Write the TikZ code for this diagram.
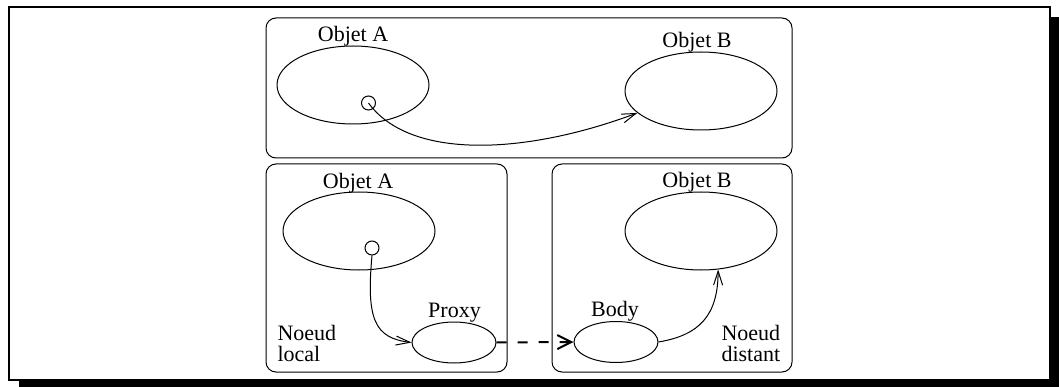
\documentclass[tikz,border=0pt]{standalone}
\usepackage{fontspec}
\setmainfont{Liberation Serif}
\newfontfamily\labelfont{Liberation Serif}
\usetikzlibrary{shapes.geometric,arrows.meta}
\begin{document}
\begin{tikzpicture}[x=1pt,y=-1pt,line width=1pt,
  obj/.style={draw,ellipse,minimum width=152pt,minimum height=78pt,inner sep=0pt},
  smallobj/.style={draw,ellipse,minimum width=84pt,minimum height=41pt,inner sep=0pt},
  refc/.style={draw,circle,minimum size=14pt,inner sep=0pt},
  lbl/.style={font=\labelfont\fontsize{22}{26}\selectfont,inner sep=0pt,anchor=base},
  lbll/.style={font=\labelfont\fontsize{22}{26}\selectfont,inner sep=0pt,anchor=base west},
  nodebox/.style={draw,rounded corners=10pt},
  conn/.style={-{Straight Barb[length=14pt,width=9pt]}},
  remote/.style={line width=2pt,dash pattern=on 10pt off 11pt,-{Straight Barb[length=14pt,width=14pt]}}
]
\useasboundingbox (0,0) rectangle (1059,387);
% frame with shadow
\fill (19,381) rectangle (1059,387);
\fill (1051,17) rectangle (1059,387);
\draw[line width=2pt] (9,7) rectangle (1050,380);

% top box
\draw[nodebox] (266,18) rectangle (792,158);
\node[obj] (A1) at (353,85) {};
\node[obj] (B1) at (701,91) {};
\node[lbl] (lA1) at (353,42) {Objet A};
\node[lbl] (lB1) at (697,48) {Objet B};
\node[refc] (c1) at (368.5,103) {};
\draw[conn] (c1.center) .. controls (410,160) and (525,155) .. (B1.199);

% bottom left box
\draw[nodebox] (266,164) rectangle (507,372);
\node[obj] (A2) at (359,231) {};
\node[lbl] (lA2) at (358,189) {Objet A};
\node[refc] (c2) at (372,248) {};
\node[smallobj] (P) at (454,342.5) {};
\node[lbl] (lP) at (454.5,317) {Proxy};
\node[lbll] (nl1) at (277,340) {Noeud};
\node[lbll] (nl2) at (277,361) {local};
\draw[conn] (c2.south) .. controls (366,320) and (375,338) .. (P.west);

% bottom right box
\draw[nodebox] (552,164) rectangle (792,372);
\node[obj] (B2) at (701,231) {};
\node[lbl] (lB2) at (697,188) {Objet B};
\node[smallobj] (Bd) at (616,342) {};
\node[lbl] (lBd) at (615,316) {Body};
\node[lbll] (nd1) at (721,340) {Noeud};
\node[lbll] (nd2) at (721,361) {distant};
\draw[conn] (Bd.east) .. controls (700,335) and (718,315) .. (B2.-66);

% remote link
\draw[remote] (P.east) -- (Bd.west);
\end{tikzpicture}
\end{document}
